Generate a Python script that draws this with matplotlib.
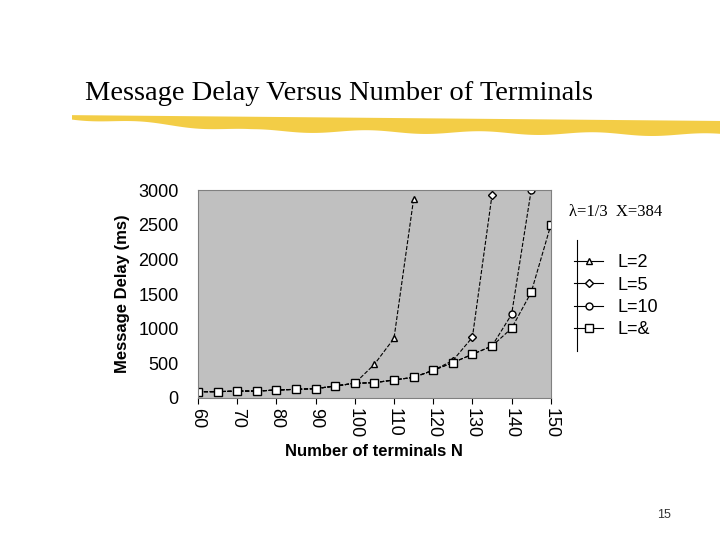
import numpy as np
import matplotlib
matplotlib.use('Agg')
import matplotlib.pyplot as plt

plt.rcParams['font.family'] = ['Liberation Sans', 'DejaVu Sans']

n = [60, 65, 70, 75, 80, 85, 90, 95, 100, 105, 110, 115, 120, 125, 130, 135, 140, 145, 150]
base = [91, 91, 100, 100, 115, 125, 135, 173, 212, 221, 260, 298, 399, 510, 630, 750]
l_inf = base + [1005, 1525, 2495]
l_10 = base[:15] + [750, 1207, 3000]
l_5 = base[:13] + [540, 875, 2928]
l_2 = base[:9] + [486, 861, 2870]

fig = plt.figure(figsize=(7.2, 5.4), dpi=100)

# title and yellow brush stroke
fig.text(0.118, 0.815, 'Message Delay Versus Number of Terminals', family='Liberation Serif', fontsize=20.5)
xs = np.linspace(0.10, 1.0, 200)
top = 0.788 - 0.012 * xs
bot = top - 0.006 - 0.02 * np.clip((xs - 0.1) * 4, 0, 1) + 0.003 * np.sin(xs * 40)
fig.patches.append(plt.Polygon(list(zip(xs, top)) + list(zip(xs[::-1], bot[::-1])),
                               closed=True, transform=fig.transFigure, facecolor='#f2c832', edgecolor='none', alpha=0.9))
fig.text(0.932, 0.04, '15', fontsize=9, color='#333333', ha='right')

ax = fig.add_axes([0.275, 0.263, 0.49, 0.385])
ax.set_facecolor('#c0c0c0')
ms = dict(color='black', markerfacecolor='white', markeredgecolor='black', linewidth=0.8, linestyle='--')
ax.plot(n[:len(l_2)], l_2, marker='^', markersize=5, **ms, label='L=2')
ax.plot(n[:len(l_5)], l_5, marker='D', markersize=4, **ms, label='L=5')
ax.plot(n[:len(l_10)], l_10, marker='o', markersize=5, **ms, label='L=10')
ax.plot(n, l_inf, marker='s', markersize=6, **ms, label='L=&')
ax.set_xlim(60, 150)
ax.set_ylim(0, 3000)
ax.set_xticks(range(60, 151, 10))
ax.set_xticklabels([str(v) for v in range(60, 151, 10)], rotation=270, fontsize=13)
ax.set_yticks(range(0, 3001, 500))
ax.tick_params(axis='y', labelsize=13, length=0, pad=14)
ax.tick_params(axis='x', length=4)
ax.grid(False)
for s in ax.spines.values():
    s.set_color('#808080')
ax.set_xlabel('Number of terminals N', fontsize=12, fontweight='bold')
ax.set_ylabel('Message Delay (ms)', fontsize=12, fontweight='bold', labelpad=6)

fig.text(0.79, 0.6, 'λ=1/3  X=384', family='Liberation Serif', fontsize=12)
fig.add_artist(plt.Line2D([0.802, 0.802], [0.35, 0.555], color='black', linewidth=0.8))
leg = ax.legend(loc='upper left', bbox_to_anchor=(1.02, 0.77), frameon=False, fontsize=13,
                handlelength=1.6, labelspacing=0.3)
for h in leg.get_lines():
    h.set_linestyle('-')
plt.savefig('out.png', dpi=100)
